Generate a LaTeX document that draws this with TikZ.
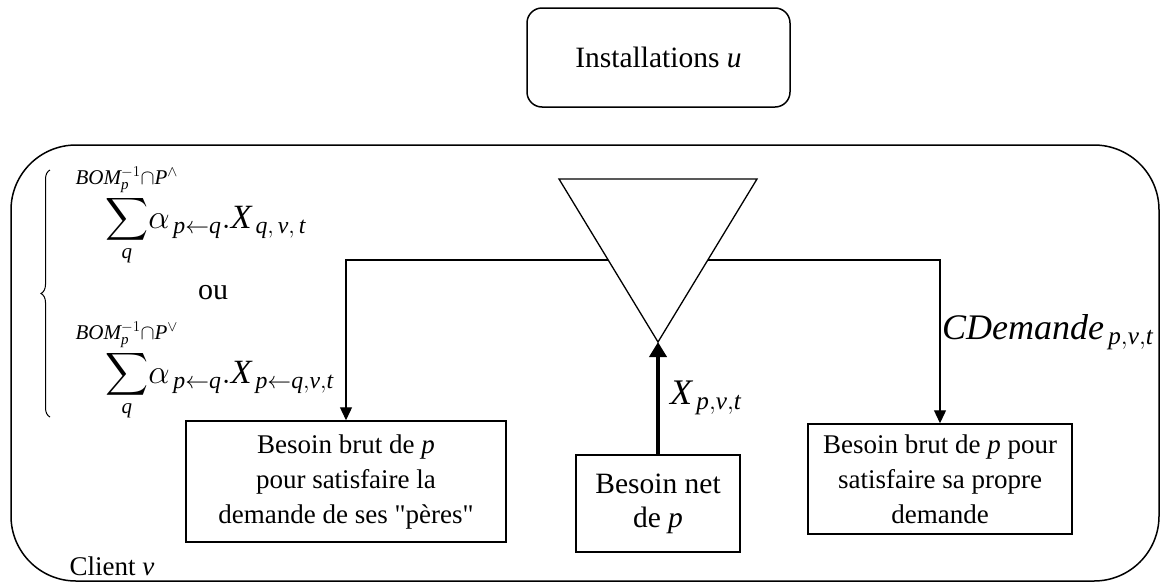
\RequirePackage{fix-cm}
\documentclass[tikz,border=0pt]{standalone}
\usepackage{amsmath}
\usepackage{graphicx}
\usepackage{fontspec}
\setmainfont{Liberation Serif}
\newfontfamily\plainq{Liberation Serif}[Ligatures=ResetAll]
\usetikzlibrary{arrows.meta,decorations.pathreplacing}
\newcommand\vi[1]{\text{\itshape #1}}
\newcommand\ulim[1]{\makebox[0pt]{$\scriptstyle #1$}}
\newcommand\bigsum{\mathop{\scalebox{1.2}{$\displaystyle\sum$}}\limits}
\newcommand\dq{{\plainq"}}
\newcommand\restsz{\fontsize{34}{40}\selectfont}
\tikzset{
  boxstyle/.style={draw, line width=1.5pt, inner sep=0pt, align=center},
  conn/.style={line width=1.3pt, -{Triangle[length=13pt,width=12pt]}},
  thickconn/.style={line width=4pt, -{Triangle[length=15pt,width=17pt]}},
  txtsz/.style={font=\fontsize{27}{35}\selectfont},
  bigsz/.style={font=\fontsize{29.5}{34}\selectfont},
  mathsz/.style={font=\fontsize{30}{36}\selectfont},
  labsz/.style={font=\fontsize{36}{40}\selectfont}
}
\begin{document}
\begin{tikzpicture}[x=1pt,y=-1pt]
\useasboundingbox (0,0) rectangle (1161,584);
% outer client box
\node[draw, line width=1.5pt, rounded corners=65pt, minimum width=1148pt, minimum height=436pt, inner sep=0pt] (client) at (585,363) {};
\node[anchor=base west, txtsz] (clientlbl) at (66,575) {Client \textit{v}};
% installations
\node[boxstyle, rounded corners=15pt, minimum width=263pt, minimum height=99pt, bigsz] (inst) at (658.5,57.5) {Installations \textit{u}};
% triangle
\coordinate (ta) at (559,179);
\coordinate (tb) at (757,179);
\coordinate (tv) at (658,342);
\draw[line width=1.3pt] (ta) -- (tb) -- (tv) -- cycle;
\coordinate (jl) at (608,260);
\coordinate (jr) at (708,260);
% boxes
\node[boxstyle, minimum width=320pt, minimum height=121pt, txtsz] (brutL) at (346,481.5) {Besoin brut de \textit{p}\\pour satisfaire la\\demande de ses \dq pères\dq};
\node[boxstyle, minimum width=264pt, minimum height=110pt, txtsz] (brutR) at (940,479) {Besoin brut de \textit{p} pour\\satisfaire sa propre\\demande};
\node[boxstyle, minimum width=164pt, minimum height=97pt, bigsz] (net) at (658,503.5) {Besoin net\\de \textit{p}};
% connectors
\draw[conn] (jl) -| (brutL.north);
\draw[conn] (jr) -| (brutR.north);
\draw[thickconn] (net.north) -- (tv);
% labels
\node[anchor=west, labsz, inner sep=0pt] (xlab) at (670,398) {$\vi{X}_{\,\vi{p},\vi{v},\vi{t}}$};
\node[anchor=west, labsz, inner sep=0pt] (clab) at (942,332) {$\vi{CDemande}_{\,\vi{p},\vi{v},\vi{t}}$};
% formulas
\node[mathsz, inner sep=0pt, anchor=west] (sum1) at (105,215) {$\bigsum_{\vi{q}}^{\ulim{\vi{BOM}_{\vi{p}}^{-1}\cap \vi{P}^{\wedge}}}$\restsz$\alpha_{\,\vi{p}\leftarrow \vi{q}}.\vi{X}_{\,\vi{q},\,\vi{v},\,\vi{t}}$};
\node[mathsz, inner sep=0pt] (ou) at (213,293) {ou};
\node[mathsz, inner sep=0pt, anchor=west] (sum2) at (105,370) {$\bigsum_{\vi{q}}^{\ulim{\vi{BOM}_{\vi{p}}^{-1}\cap \vi{P}^{\vee}}}$\restsz$\alpha_{\,\vi{p}\leftarrow \vi{q}}.\vi{X}_{\,\vi{p}\leftarrow\vi{q},\vi{v},\vi{t}}$};
% brace
\coordinate (bb) at (50,417);
\coordinate (bt) at (50,170);
\draw[line width=1pt, decorate, decoration={brace, amplitude=9pt}] (bb) -- (bt);
\end{tikzpicture}
\end{document}
